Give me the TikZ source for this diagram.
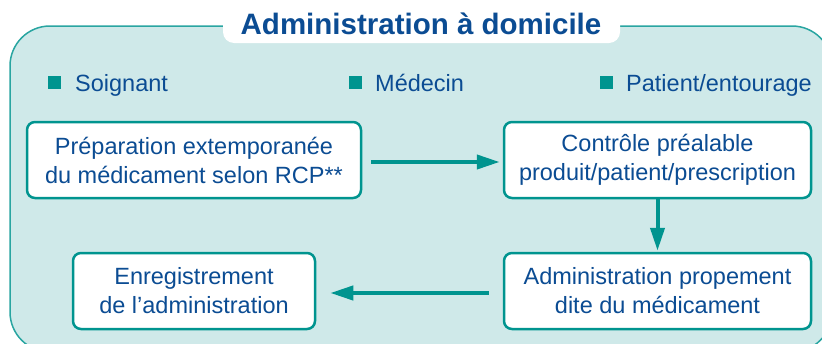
\documentclass[tikz,border=0pt]{standalone}
\usepackage{fontspec}
\setmainfont{Liberation Sans}
\usetikzlibrary{arrows.meta}
\definecolor{teal1}{HTML}{00948F}
\definecolor{panelfill}{HTML}{CFE9E9}
\definecolor{txtblue}{HTML}{0B4C93}
\tikzset{
  box/.style={draw=teal1, line width=2.5pt, fill=white, rounded corners=8pt,
    align=center, text=txtblue, inner sep=0pt,
    font=\fontsize{23.5}{29}\selectfont, minimum height=76pt},
  flow/.style={draw=teal1, line width=4pt, -{Triangle[length=23pt,width=14pt]}},
  role/.style={anchor=base west, text=txtblue, inner sep=0pt, font=\fontsize{23.5}{28}\selectfont},
  bullet/.style={fill=teal1}
}
\begin{document}
\begin{tikzpicture}[x=1pt,y=-1pt]
\useasboundingbox (0,0) rectangle (822,343);
\clip (0,0) rectangle (822,343);
% panel
\draw[fill=panelfill, draw=teal1!80!panelfill, line width=1.5pt, rounded corners=40pt] (10,26) rectangle (832,352);
% title tab
\fill[white, rounded corners=11pt] (223,-20) rectangle (620,43);
\node[text=txtblue, font=\bfseries\fontsize{29.5}{34}\selectfont, anchor=base, inner sep=0pt] (title) at (421,34) {Administration à domicile};
% roles
\fill[bullet] (48,76) rectangle (61,89);
\node[role] (soignant) at (75,91) {Soignant};
\fill[bullet] (349,76) rectangle (362,89);
\node[role] (medecin) at (375,91) {Médecin};
\fill[bullet] (600,76) rectangle (613,89);
\node[role] (patient) at (626,91) {Patient/entourage};
% boxes
\node[box, minimum width=334pt] (b1) at (194,160) {Préparation extemporanée\\du médicament selon RCP**};
\node[box, minimum width=307pt] (b2) at (657.5,160) {Contrôle préalable\\produit/patient/prescription};
\node[box, minimum width=307pt] (b3) at (657.5,291) {Administration propement\\dite du médicament};
\node[box, minimum width=242pt] (b4) at (194,291) {Enregistrement\\de l’administration};
% arrows
\draw[flow, shorten <=9pt, shorten >=3pt] (b1.east |- 0,162) -- (b2.west |- 0,162);
\draw[flow, shorten >=1pt] (b2.south) -- (b3.north);
\draw[flow, shorten <=14pt, shorten >=14pt] (b3.west |- 0,293) -- (b4.east |- 0,293);
\end{tikzpicture}
\end{document}
